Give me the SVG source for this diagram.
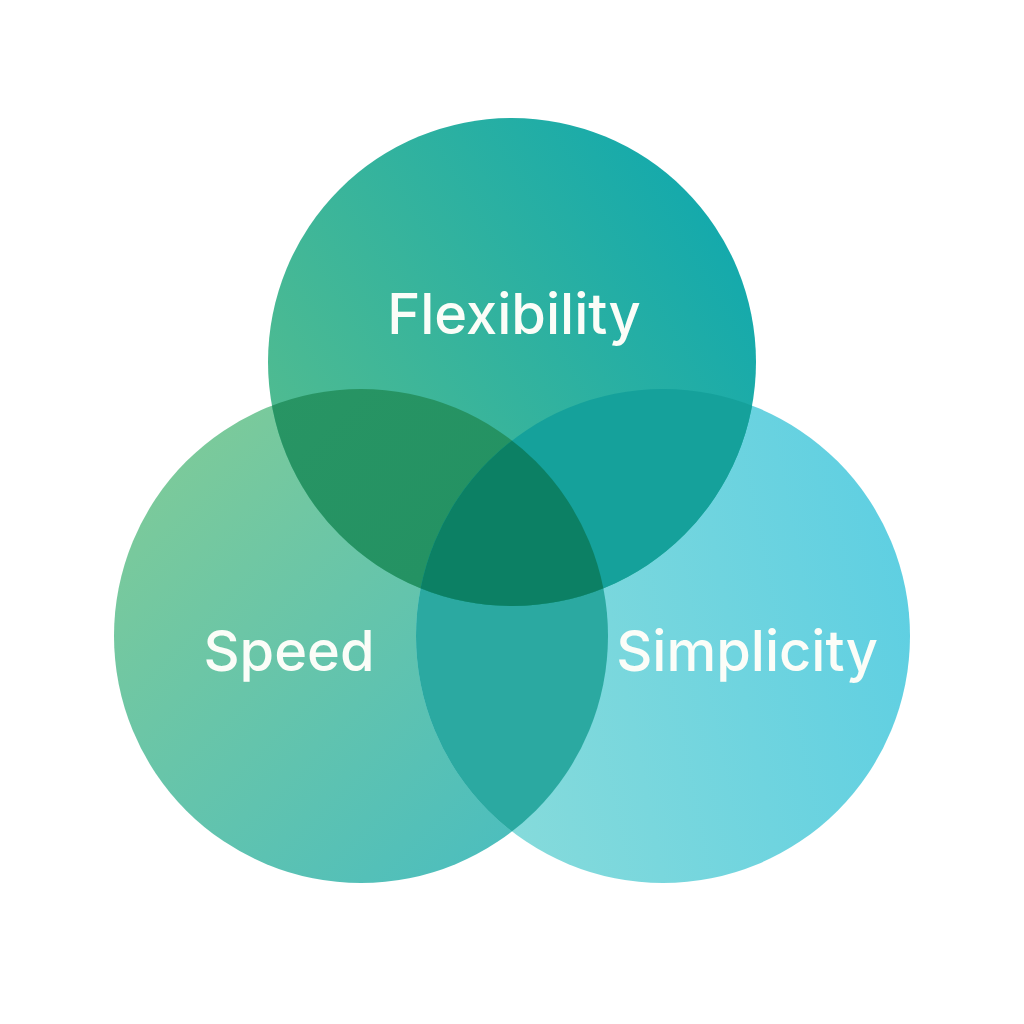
<svg xmlns="http://www.w3.org/2000/svg" width="1024" height="1024" viewBox="0 0 1024 1024">
<defs>
<style>
.lbl{font-family:Inter,"Open Sans","Liberation Sans",sans-serif;font-size:56px;font-weight:500;fill:#fbfdf8;text-anchor:middle}
</style>
<linearGradient id="gL" x1="0" y1="0" x2="1" y2="1">
<stop offset="0" stop-color="#84cc94"/><stop offset="1" stop-color="#44bcc4"/>
</linearGradient>
<linearGradient id="gT" x1="0" y1="0.8" x2="1" y2="0.2">
<stop offset="0" stop-color="#55bd8e"/><stop offset="1" stop-color="#10a8ae"/>
</linearGradient>
<linearGradient id="gR" x1="0" y1="0.5" x2="1" y2="0.3">
<stop offset="0" stop-color="#8adcda"/><stop offset="1" stop-color="#5ecfe2"/>
</linearGradient>
<linearGradient id="gTL" x1="0" y1="0" x2="1" y2="1">
<stop offset="0" stop-color="#2a9664"/><stop offset="1" stop-color="#1e8e62"/>
</linearGradient>
<clipPath id="cT"><circle cx="512" cy="362" r="244"/></clipPath>
<clipPath id="cL"><circle cx="361" cy="636" r="247"/></clipPath>
<clipPath id="cR"><circle cx="663" cy="636" r="247"/></clipPath>
</defs>
<rect width="1024" height="1024" fill="#ffffff"/>
<g id="speed"><circle cx="361" cy="636" r="247" fill="url(#gL)"/></g>
<g id="simplicity"><circle cx="663" cy="636" r="247" fill="url(#gR)"/></g>
<g id="flexibility"><circle cx="512" cy="362" r="244" fill="url(#gT)"/></g>
<g id="overlaps">
<g clip-path="url(#cL)"><circle cx="663" cy="636" r="247" fill="#2ba9a1"/></g>
<g clip-path="url(#cT)"><circle cx="361" cy="636" r="247" fill="url(#gTL)"/></g>
<g clip-path="url(#cT)"><circle cx="663" cy="636" r="247" fill="#15a19b"/></g>
<g clip-path="url(#cT)"><g clip-path="url(#cL)"><circle cx="663" cy="636" r="247" fill="#0c8064"/></g></g>
</g>
<g id="labels">
<text class="lbl" x="514" y="334">Flexibility</text>
<text class="lbl" x="289" y="671">Speed</text>
<text class="lbl" x="747" y="671">Simplicity</text>
</g>
</svg>
